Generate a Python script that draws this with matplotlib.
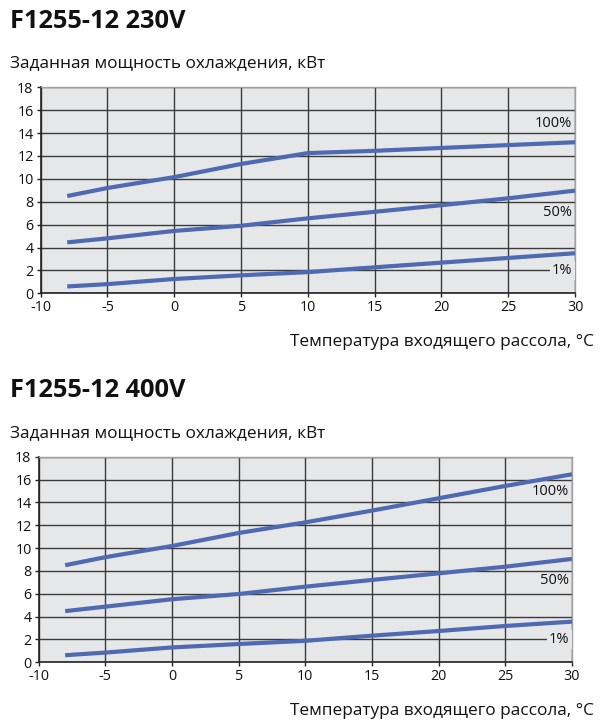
import matplotlib.pyplot as plt
import numpy as np

plt.rcParams['font.family'] = ['Open Sans', 'DejaVu Sans']
plt.rcParams['axes.unicode_minus'] = False

# data
temps = [-8, -5, 0, 5, 10, 15, 20, 25, 30]

p230_100 = [8.5, 9.2, 10.15, 11.3, 12.25, 12.45, 12.7, 12.95, 13.2]
p230_50 = [4.45, 4.8, 5.45, 5.9, 6.55, 7.12, 7.7, 8.3, 8.97]
p230_1 = [0.6, 0.8, 1.25, 1.57, 1.85, 2.27, 2.68, 3.09, 3.5]

p400_100 = [8.5, 9.2, 10.18, 11.32, 12.25, 13.28, 14.36, 15.44, 16.46]
p400_50 = [4.48, 4.87, 5.52, 5.98, 6.62, 7.21, 7.79, 8.37, 9.05]
p400_1 = [0.62, 0.85, 1.3, 1.6, 1.88, 2.33, 2.74, 3.18, 3.56]

titles = ['F1255-12 230V', 'F1255-12 400V']
ylabel = 'Заданная мощность охлаждения, кВт'
xlabel = 'Температура входящего рассола, °C'
curve_labels = ['100%', '50%', '1%']
label_y = {'230': [14.85, 7.05, 2.0], '400': [14.95, 7.15, 2.0]}

BG = '#e6e7e9'
LINE = '#4f69b2'
GRID = '#3a3a3a'

fig = plt.figure(figsize=(6.04, 7.22), dpi=100)


def draw_panel(rect, series, ly, title, title_y, sub_y, xl_y):
    ax = fig.add_axes(rect)
    ax.set_facecolor(BG)
    for s in series:
        ax.plot(temps, s, color=LINE, lw=3.0, solid_capstyle='butt', zorder=3)
    ax.set_xlim(-10, 30)
    ax.set_ylim(0, 18)
    ax.set_xticks(np.arange(-10, 31, 5))
    ax.set_yticks(np.arange(0, 19, 2))
    ax.grid(True, color=GRID, lw=1.0, zorder=1)
    ax.set_axisbelow(True)
    for side in ['top', 'right']:
        ax.spines[side].set_color('#a0a0a0')
        ax.spines[side].set_linewidth(1.0)
    for side in ['left', 'bottom']:
        ax.spines[side].set_color('#222222')
        ax.spines[side].set_linewidth(1.2)
    ax.tick_params(axis='both', labelsize=10.3, length=3, width=1.0,
                   color='#222222', pad=2, labelcolor='#111111')
    for txt, yv in zip(curve_labels, ly):
        box = dict(boxstyle='square,pad=0.15', fc=BG, ec='none') if txt == '1%' else None
        ax.text(29.8, yv, txt, ha='right', va='center', fontsize=10.5,
                color='#111111', bbox=box, zorder=4)
    fig.text(10 / 604, 1 - title_y / 722, title, fontsize=18.3, fontweight='bold',
             ha='left', va='baseline', color='#111111')
    fig.text(10 / 604, 1 - sub_y / 722, ylabel, fontsize=12.4,
             ha='left', va='baseline', color='#111111')
    fig.text(594 / 604, 1 - xl_y / 722, xlabel, fontsize=12.4,
             ha='right', va='baseline', color='#111111')
    return ax


draw_panel([40.5 / 604, 1 - 293.3 / 722, 534.5 / 604, 206 / 722],
           [p230_100, p230_50, p230_1], label_y['230'], titles[0], 28.5, 67, 346)
draw_panel([38.5 / 604, 1 - 662.3 / 722, 533.5 / 604, 205.6 / 722],
           [p400_100, p400_50, p400_1], label_y['400'], titles[1], 397, 437, 715)

fig.savefig('out.png', dpi=100)
